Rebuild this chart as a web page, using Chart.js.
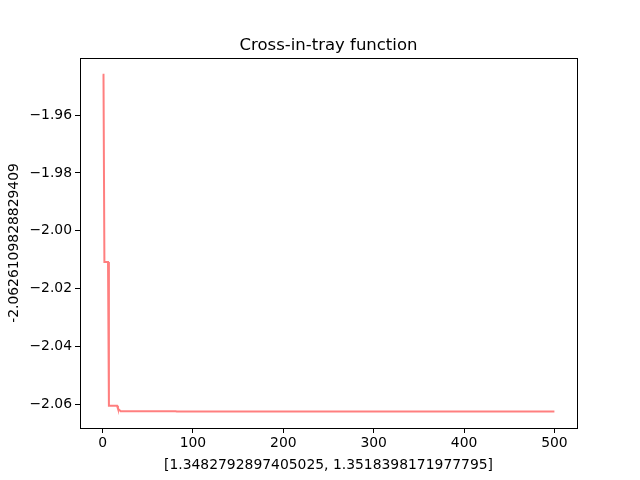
<!DOCTYPE html>
<html>
<head>
<meta charset="utf-8">
<script src="https://cdn.jsdelivr.net/npm/chart.js@4"></script>
<style>
  html, body { margin: 0; padding: 0; background: #fff; }
  #wrap { width: 640px; height: 480px; }
</style>
</head>
<body>
<div id="wrap"><canvas id="js--chart" width="640" height="480"></canvas></div>
<script>
// data (iteration -> best value so far)
const iterations = [0, 1, 2, 6, 7, 16, 17, 20, 81, 82, 500];
const bestValues = [-1.9460, -1.9460, -2.0108, -2.0108, -2.0606, -2.0606, -2.0616, -2.0625, -2.0625, -2.0626, -2.0626];
const xTicks = [0, 100, 200, 300, 400, 500];
const yTicks = [-1.96, -1.98, -2.00, -2.02, -2.04, -2.06];

const titleText = "Cross-in-tray function";
const xLabel = "[1.3482792897405025, 1.3518398171977795]";
const yLabel = "-2.0626109828829409";

const font = "DejaVu Sans";

// frame + title like matplotlib
const framePlugin = {
    id: "frame",
    afterDraw(chart) {
        const a = chart.chartArea;
        const ctx = chart.ctx;
        ctx.save();
        ctx.strokeStyle = "#000";
        ctx.lineWidth = 1;
        ctx.strokeRect(Math.round(a.left) + 0.5, Math.round(a.top) + 0.5,
            Math.round(a.right - a.left), Math.round(a.bottom - a.top));
        ctx.fillStyle = "#000";
        ctx.font = "16.5px '" + font + "'";
        ctx.textAlign = "center";
        ctx.textBaseline = "alphabetic";
        ctx.fillText(titleText, (a.left + a.right) / 2, 49.5);
        ctx.restore();
    }
};

const data = {
    datasets: [{
        data: iterations.map((x, i) => ({ x: x, y: bestValues[i] })),
        borderColor: "rgba(255,0,0,0.5)",
        borderWidth: 2,
        pointRadius: 0,
        fill: false,
        tension: 0
    }]
};

const config = {
    type: "line",
    data: data,
    options: {
        responsive: false,
        animation: false,
        layout: { padding: { left: 0, right: 63, top: 58, bottom: 6 } },
        plugins: {
            legend: { display: false },
            tooltip: { enabled: false },
            title: { display: false }
        },
        scales: {
            x: {
                type: "linear",
                min: -25,
                max: 525,
                afterBuildTicks: s => { s.ticks = xTicks.map(v => ({ value: v })); },
                afterFit: s => { s.height = 46; },
                grid: { drawOnChartArea: false, tickLength: 5, tickColor: "#000", color: "#000" },
                border: { color: "#000" },
                ticks: {
                    color: "#000",
                    font: { family: font, size: 13.9 },
                    padding: 2,
                    maxRotation: 0,
                    callback: v => String(v)
                },
                title: {
                    display: true,
                    text: xLabel,
                    color: "#000",
                    font: { family: font, size: 13.9 },
                    padding: { top: 0, bottom: 0 }
                }
            },
            y: {
                type: "linear",
                min: -2.0683,
                max: -1.9402,
                afterBuildTicks: s => { s.ticks = yTicks.map(v => ({ value: v })); },
                afterFit: s => { s.width = 80; },
                grid: { drawOnChartArea: false, tickLength: 5, tickColor: "#000", color: "#000" },
                border: { color: "#000" },
                ticks: {
                    color: "#000",
                    font: { family: font, size: 13.9 },
                    padding: 3,
                    callback: v => (v < 0 ? "\u2212" : "") + Math.abs(v).toFixed(2)
                },
                title: {
                    display: true,
                    text: yLabel,
                    color: "#000",
                    font: { family: font, size: 13.9 },
                    padding: { top: 6, bottom: 0 }
                }
            }
        }
    },
    plugins: [framePlugin]
};

const chart1 = new Chart(document.getElementById("js--chart"), config);
</script>
</body>
</html>
